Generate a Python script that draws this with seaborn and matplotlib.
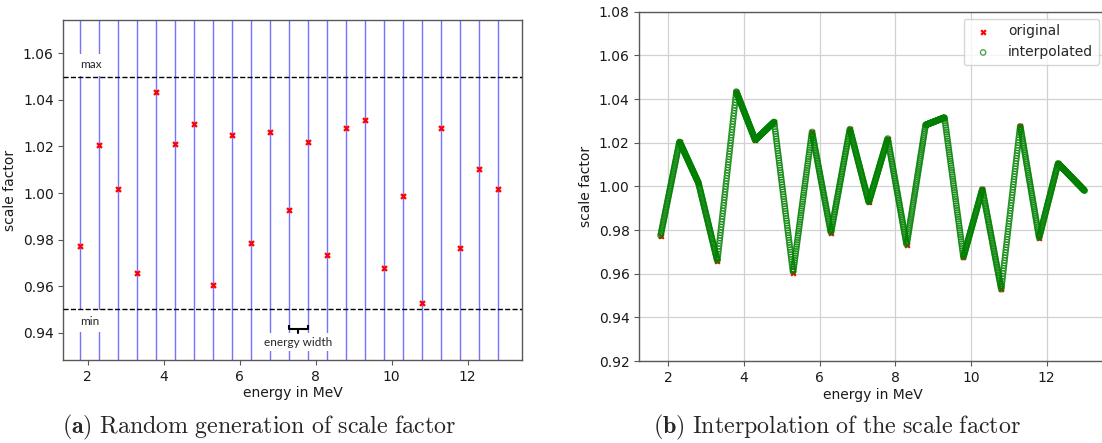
import numpy as np
import matplotlib
matplotlib.use("Agg")
import matplotlib.pyplot as plt
import seaborn as sns
from matplotlib.patches import Rectangle

# Bin centres (MeV) and the randomly drawn scale factor of each bin
energy = [1.8, 2.3, 2.8, 3.3, 3.8, 4.3, 4.8, 5.3, 5.8, 6.3, 6.8, 7.3,
          7.8, 8.3, 8.8, 9.3, 9.8, 10.3, 10.8, 11.3, 11.8, 12.3, 12.8]
scale_factor = [0.9774, 1.0205, 1.0016, 0.9658, 1.0434, 1.0212, 1.0295,
                0.9605, 1.0249, 0.9787, 1.0262, 0.9927, 1.0219, 0.9732,
                1.0281, 1.0315, 0.9676, 0.9987, 0.9529, 1.0278, 0.9765,
                1.0105, 1.0016]

# Allowed band for the random draw
scale_min = 0.95
scale_max = 1.05

# Fine energy grid for the interpolated scale factor
grid_start = 1.8
grid_stop = 13.0
grid_points = 1401

x_ticks = [2, 4, 6, 8, 10, 12]
y_ticks_left = [0.94, 0.96, 0.98, 1.00, 1.02, 1.04, 1.06]
y_ticks_right = [0.92, 0.94, 0.96, 0.98, 1.00, 1.02, 1.04, 1.06, 1.08]

sns.set_theme(style="ticks")
plt.rcParams["font.family"] = ["DejaVu Sans"]
plt.rcParams["mathtext.fontset"] = "cm"

fig = plt.figure(figsize=(11.02, 4.43), dpi=100)
ax1 = fig.add_axes([0.0576, 0.1874, 0.4164, 0.7675])
ax2 = fig.add_axes([0.5802, 0.1851, 0.4232, 0.7885])

for ax in (ax1, ax2):
    for sp in ax.spines.values():
        sp.set_color("0.35")
        sp.set_linewidth(1.0)
    ax.tick_params(labelsize=10, length=3.5, width=0.8, color="0.35",
                   labelcolor="0.1")
    ax.set_xlabel("energy in MeV", fontsize=10, color="0.1", labelpad=2)
    ax.set_ylabel("scale factor", fontsize=10, color="0.1")

# ---- (a) random generation ----
for e in energy:
    ax1.axvline(e, color="#5a5aff", lw=1.0, alpha=0.85, zorder=1)
ax1.axhline(scale_max, color="black", ls="--", lw=1.0, zorder=4)
ax1.axhline(scale_min, color="black", ls="--", lw=1.0, zorder=4)

# white label boxes on top of the bin lines
label_font = dict(family=["Lato", "DejaVu Sans"], fontsize=8.5, color="0.15")
ax1.add_patch(Rectangle((1.62, scale_max + 0.0004), 0.9, 0.0095,
                        facecolor="white", edgecolor="none", zorder=2))
ax1.add_patch(Rectangle((1.62, scale_min - 0.0097), 0.9, 0.0093,
                        facecolor="white", edgecolor="none", zorder=2))
ax1.text(2.09, 1.0552, "max", ha="center", va="center", zorder=3, **label_font)
ax1.text(2.07, 0.9448, "min", ha="center", va="center", zorder=3, **label_font)

w0, w1 = energy[11], energy[12]
ax1.add_patch(Rectangle((6.6, 0.9321), 1.85, 0.0079,
                        facecolor="white", edgecolor="none", zorder=2))
ax1.text((w0 + w1) / 2, 0.9358, "energy width", ha="center", va="center",
         zorder=3, **label_font)
mid = (w0 + w1) / 2
ax1.plot([w0, w0, w1, w1], [0.9433, 0.9415, 0.9415, 0.9433],
         color="black", lw=1.5, zorder=4, solid_capstyle="butt")
ax1.plot([mid, mid], [0.9415, 0.9398], color="black", lw=1.5, zorder=4)

sns.scatterplot(x=energy, y=scale_factor, marker="X", color="red", s=22,
                linewidth=0, zorder=5, ax=ax1)

ax1.set_xlim(1.367, 13.44)
ax1.set_ylim(0.9283, 1.0743)
ax1.set_xticks(x_ticks)
ax1.set_yticks(y_ticks_left)
ax1.set_yticklabels([f"{v:.2f}" for v in y_ticks_left])

# ---- (b) interpolation ----
e_arr = np.asarray(energy)
s_arr = np.asarray(scale_factor)
e_fine = np.linspace(grid_start, grid_stop, grid_points)
s_fine = np.interp(e_fine, e_arr, s_arr)
tail = e_fine > e_arr[-1]
slope = (s_arr[-1] - s_arr[-2]) / (e_arr[-1] - e_arr[-2])
s_fine[tail] = s_arr[-1] + (e_fine[tail] - e_arr[-1]) * slope

ax2.grid(True, color="0.82", lw=0.9)
ax2.set_axisbelow(True)
sns.scatterplot(x=energy, y=scale_factor, marker="X", color="red", s=20,
                linewidth=0, zorder=2, label="original", ax=ax2)
sns.scatterplot(x=e_fine, y=s_fine, marker="o", facecolor="none",
                edgecolor="green", s=15, linewidth=0.9, alpha=0.75,
                zorder=3, label="interpolated", ax=ax2)
ax2.set_ylim(0.92, 1.08)
ax2.set_xticks(x_ticks)
ax2.set_yticks(y_ticks_right)
ax2.set_yticklabels([f"{v:.2f}" for v in y_ticks_right])
ax2.legend(loc="upper right", fontsize=10, frameon=True, handletextpad=0.8)

# ---- sub-captions ----
fig.text(61.7 / 1102, 1 - 433 / 443,
         r"$\mathbf{(a)}\ \mathrm{Random\ generation\ of\ scale\ factor}$",
         fontsize=17.3, ha="left", va="baseline")
fig.text(652.7 / 1102, 1 - 433 / 443,
         r"$\mathbf{(b)}\ \mathrm{Interpolation\ of\ the\ scale\ factor}$",
         fontsize=17.3, ha="left", va="baseline")

fig.savefig("out.png", dpi=100)
